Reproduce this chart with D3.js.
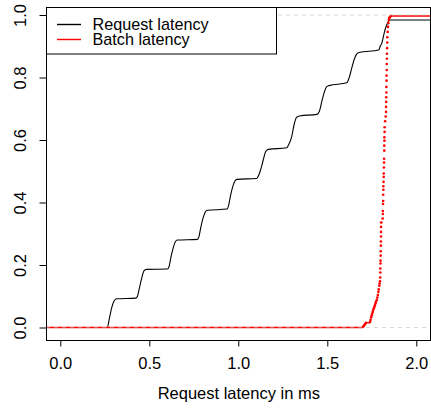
<!DOCTYPE html>
<html>
<head>
<meta charset="utf-8">
<script src="https://cdn.jsdelivr.net/npm/d3@7"></script>
<style>
  body { margin: 0; background: #fff; }
  text { font-family: "Liberation Sans", Arial, Helvetica, sans-serif; font-size: 16.5px; fill: #000; }
</style>
</head>
<body>
<svg id="chart" width="431" height="408"></svg>
<script>
// Axis ticks
const xTicks = [0, 0.5, 1, 1.5, 2];
const yTicks = [0, 0.2, 0.4, 0.6, 0.8, 1];

// Request latency ECDF (ms, cumulative fraction)
const requestLatency = [0.264,0.276,0.290,0.302,0.316,0.425,0.434,0.444,0.457,0.470,0.484,0.602,0.611,0.622,0.636,0.647,0.658,0.771,0.779,0.790,0.804,0.816,0.827,0.937,0.945,0.956,0.970,0.981,0.993,1.103,1.113,1.125,1.140,1.154,1.169,1.272,1.282,1.300,1.313,1.328,1.344,1.442,1.456,1.470,1.484,1.497,1.510,1.609,1.622,1.636,1.650,1.664,1.678,1.789,1.798,1.806,1.816,1.824,1.834,1.843,1.855];
const requestCdf = [0,0.030,0.066,0.085,0.092,0.094,0.101,0.125,0.157,0.181,0.186,0.187,0.195,0.226,0.258,0.275,0.280,0.282,0.291,0.322,0.354,0.371,0.375,0.379,0.389,0.421,0.453,0.469,0.474,0.477,0.485,0.504,0.536,0.563,0.570,0.575,0.584,0.611,0.648,0.673,0.677,0.682,0.693,0.725,0.755,0.771,0.774,0.783,0.798,0.827,0.856,0.874,0.880,0.888,0.901,0.909,0.933,0.952,0.968,0.979,0.984];

// Batch latency ECDF jumps (ms, cumulative fraction)
const batchLatency = [1.702,1.706,1.710,1.714,1.717,1.740,1.743,1.746,1.749,1.752,1.755,1.758,1.762,1.765,1.768,1.771,1.774,1.778,1.781,1.784,1.787,1.789,1.792,1.794,1.796,
  1.797,1.798,1.798,1.799,1.799,1.800,1.800,1.801,1.801,1.802,1.802,1.802,1.802,
  1.811,1.812,1.812,1.813,1.814,1.814,1.815,1.815,1.816,1.817,1.817,1.818,1.819,1.819,1.820,1.820,1.821,1.821,1.822,1.822,
  1.825,1.828,1.830,1.830,1.831,1.831,1.832,1.832,1.833,1.833,1.834,1.834,1.835,1.835,1.836,1.837,1.837,1.839,1.841,1.843,1.846,1.848,1.852,1.858];
const batchCdf = [0.003,0.006,0.009,0.012,0.015,0.018,0.024,0.032,0.038,0.044,0.050,0.056,0.062,0.067,0.072,0.078,0.083,0.088,0.096,0.104,0.114,0.122,0.134,0.141,0.148,
  0.160,0.176,0.189,0.205,0.214,0.230,0.244,0.262,0.275,0.291,0.306,0.322,0.336,
  0.349,0.363,0.373,0.395,0.405,0.425,0.441,0.452,0.466,0.482,0.493,0.512,0.528,0.540,0.566,0.582,0.598,0.609,0.626,0.641,
  0.660,0.675,0.690,0.706,0.722,0.737,0.752,0.770,0.790,0.806,0.824,0.843,0.860,0.876,0.894,0.912,0.929,0.946,0.962,0.974,0.984,0.990,0.994,0.997];

const legendLabels = ["Request latency", "Batch latency"];
const seriesColors = ["#000000", "#ff0000"];
const xLabel = "Request latency in ms";

const svg = d3.select("#chart");

// Plot frame in pixels
const frame = { left: 46, right: 430, top: 7.5, bottom: 340 };

const x = d3.scaleLinear().domain([0, 2]).range([60.3, 416.3]);
const y = d3.scaleLinear().domain([0, 1]).range([327.5, 15]);
const xMin = x.invert(frame.left), xMax = x.invert(frame.right + 1);

svg.append("defs").append("clipPath").attr("id", "plotClip")
  .append("rect")
  .attr("x", frame.left + 1).attr("y", frame.top + 0.5)
  .attr("width", frame.right - frame.left - 0.5)
  .attr("height", frame.bottom - frame.top - 0.5);

const plot = svg.append("g").attr("clip-path", "url(#plotClip)");

// Request latency curve
const reqPts = [[xMin, 0]].concat(requestLatency.map((v, i) => [v, requestCdf[i]]));
reqPts.push([xMax, requestCdf[requestCdf.length - 1]]);
const line = d3.line().x(d => x(d[0])).y(d => y(d[1])).curve(d3.curveMonotoneX);
plot.append("path")
  .datum(reqPts)
  .attr("d", line)
  .attr("fill", "none")
  .attr("stroke", seriesColors[0])
  .attr("stroke-width", 1.1);

// Batch latency step function: horizontal pieces plus jump points
const segs = [];
segs.push([xMin, batchLatency[0], 0]);
batchLatency.forEach((v, i) => {
  const next = i < batchLatency.length - 1 ? batchLatency[i + 1] : xMax;
  segs.push([v, next, batchCdf[i]]);
});
plot.append("g").selectAll("line")
  .data(segs)
  .join("line")
  .attr("x1", d => x(d[0])).attr("x2", d => x(d[1]))
  .attr("y1", d => y(d[2])).attr("y2", d => y(d[2]))
  .attr("stroke", seriesColors[1])
  .attr("stroke-width", 1.5);
plot.append("g").selectAll("circle")
  .data(batchLatency.map((v, i) => [v, batchCdf[i]]))
  .join("circle")
  .attr("cx", d => x(d[0])).attr("cy", d => y(d[1]))
  .attr("r", 1.3)
  .attr("fill", seriesColors[1]);

// Dashed reference lines at 0 and 1
plot.append("g").selectAll("line")
  .data([0, 1])
  .join("line")
  .attr("x1", frame.left).attr("x2", frame.right + 1)
  .attr("y1", d => y(d)).attr("y2", d => y(d))
  .attr("stroke", "#b3b3b3")
  .attr("stroke-opacity", 0.55)
  .attr("stroke-width", 1)
  .attr("stroke-dasharray", "4,4");

// Frame
svg.append("rect")
  .attr("x", frame.left + 0.5).attr("y", frame.top)
  .attr("width", frame.right - frame.left)
  .attr("height", frame.bottom + 0.5 - frame.top)
  .attr("fill", "none")
  .attr("stroke", "#000")
  .attr("stroke-width", 1);

// X axis
const xAxis = d3.axisBottom(x).tickValues(xTicks).tickFormat(d3.format(".1f")).tickSize(6).tickPadding(11);
const gx = svg.append("g").attr("transform", `translate(0,${frame.bottom + 0.5})`).call(xAxis);
gx.select(".domain").remove();
gx.selectAll("text").attr("font-size", null).attr("font-family", null);
gx.selectAll("line").attr("stroke", "#000");

// Y axis with rotated labels
const yAxis = d3.axisLeft(y).tickValues(yTicks).tickFormat(d3.format(".1f")).tickSize(7);
const gy = svg.append("g").attr("transform", `translate(${frame.left + 0.5},0)`).call(yAxis);
gy.select(".domain").remove();
gy.selectAll("line").attr("stroke", "#000");
gy.selectAll("text")
  .attr("font-size", null).attr("font-family", null)
  .attr("x", null).attr("dy", null)
  .attr("text-anchor", "middle")
  .attr("transform", "translate(-21,0) rotate(-90)")
  .attr("y", 0);

// X axis title
svg.append("text")
  .attr("x", (x(0) + x(2)) / 2 + 0.5)
  .attr("y", 399)
  .attr("text-anchor", "middle")
  .text(xLabel);

// Legend
const legend = svg.append("g");
legend.append("rect")
  .attr("x", frame.left + 0.5).attr("y", frame.top)
  .attr("width", 230).attr("height", 46.5)
  .attr("fill", "#fff")
  .attr("stroke", "#000")
  .attr("stroke-width", 1);
legendLabels.forEach((lab, i) => {
  const ly = 24 + i * 15;
  legend.append("line")
    .attr("x1", 57).attr("x2", 81)
    .attr("y1", ly + 0.5).attr("y2", ly + 0.5)
    .attr("stroke", seriesColors[i])
    .attr("stroke-width", 1.4);
  legend.append("text")
    .attr("x", 92.5)
    .attr("y", ly + 5.6)
    .style("font-size", "16.2px")
    .text(lab);
});
</script>
</body>
</html>
